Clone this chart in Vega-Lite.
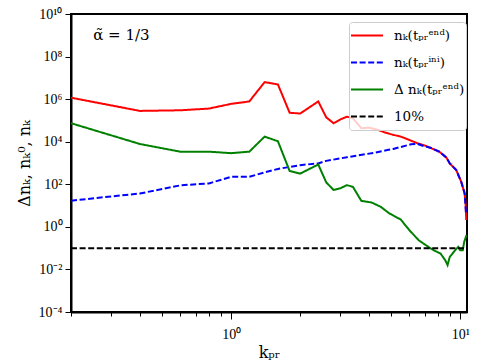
{
  "$schema": "https://vega.github.io/schema/vega-lite/v6.json",
  "width": 396,
  "height": 298,
  "autosize": "none",
  "padding": {"left": 71, "top": 14, "right": 13, "bottom": 48},
  "config": {
    "view": {"stroke": "black", "strokeWidth": 2},
    "font": "DejaVu Serif",
    "axis": {"labelColor": "black", "titleColor": "black", "titleFontWeight": "normal", "domainColor": "black", "domainWidth": 2, "tickColor": "black", "tickWidth": 1, "grid": false, "labelFont": "Liberation Serif", "titleFont": "DejaVu Serif"},
    "legend": {
      "symbolType": "stroke",
      "symbolSize": 1024,
      "symbolStrokeWidth": 2,
      "labelFontSize": 13.5,
      "labelFont": "DejaVu Serif",
      "labelColor": "black",
      "labelOffset": 10,
      "fillColor": "rgba(255,255,255,0.8)",
      "strokeColor": "#cccccc",
      "cornerRadius": 3,
      "padding": 1,
      "rowPadding": 2,
      "clipHeight": 25
    }
  },
  "layer": [
    {
      "data": {"values": [
        {"k": 0.2, "n": 1170000, "s": "nₖ(tₚᵣᵉⁿᵈ)"},
        {"k": 0.4, "n": 280000, "s": "nₖ(tₚᵣᵉⁿᵈ)"},
        {"k": 0.6, "n": 300000, "s": "nₖ(tₚᵣᵉⁿᵈ)"},
        {"k": 0.8, "n": 360000, "s": "nₖ(tₚᵣᵉⁿᵈ)"},
        {"k": 1.0, "n": 600000, "s": "nₖ(tₚᵣᵉⁿᵈ)"},
        {"k": 1.2, "n": 780000, "s": "nₖ(tₚᵣᵉⁿᵈ)"},
        {"k": 1.4, "n": 6300000, "s": "nₖ(tₚᵣᵉⁿᵈ)"},
        {"k": 1.6, "n": 4900000, "s": "nₖ(tₚᵣᵉⁿᵈ)"},
        {"k": 1.8, "n": 230000, "s": "nₖ(tₚᵣᵉⁿᵈ)"},
        {"k": 2.0, "n": 210000, "s": "nₖ(tₚᵣᵉⁿᵈ)"},
        {"k": 2.4, "n": 780000, "s": "nₖ(tₚᵣᵉⁿᵈ)"},
        {"k": 2.6, "n": 140000, "s": "nₖ(tₚᵣᵉⁿᵈ)"},
        {"k": 2.8, "n": 74000, "s": "nₖ(tₚᵣᵉⁿᵈ)"},
        {"k": 3.0, "n": 112000, "s": "nₖ(tₚᵣᵉⁿᵈ)"},
        {"k": 3.2, "n": 150000, "s": "nₖ(tₚᵣᵉⁿᵈ)"},
        {"k": 3.4, "n": 126000, "s": "nₖ(tₚᵣᵉⁿᵈ)"},
        {"k": 3.7, "n": 43000, "s": "nₖ(tₚᵣᵉⁿᵈ)"},
        {"k": 4.0, "n": 46000, "s": "nₖ(tₚᵣᵉⁿᵈ)"},
        {"k": 4.4, "n": 35000, "s": "nₖ(tₚᵣᵉⁿᵈ)"},
        {"k": 4.7, "n": 27000, "s": "nₖ(tₚᵣᵉⁿᵈ)"},
        {"k": 5.1, "n": 21000, "s": "nₖ(tₚᵣᵉⁿᵈ)"},
        {"k": 5.5, "n": 17400, "s": "nₖ(tₚᵣᵉⁿᵈ)"},
        {"k": 6.0, "n": 12000, "s": "nₖ(tₚᵣᵉⁿᵈ)"},
        {"k": 6.5, "n": 8500, "s": "nₖ(tₚᵣᵉⁿᵈ)"},
        {"k": 7.1, "n": 6300, "s": "nₖ(tₚᵣᵉⁿᵈ)"},
        {"k": 7.4, "n": 5200, "s": "nₖ(tₚᵣᵉⁿᵈ)"},
        {"k": 8.1, "n": 3400, "s": "nₖ(tₚᵣᵉⁿᵈ)"},
        {"k": 8.7, "n": 1800, "s": "nₖ(tₚᵣᵉⁿᵈ)"},
        {"k": 9.0, "n": 950, "s": "nₖ(tₚᵣᵉⁿᵈ)"},
        {"k": 9.6, "n": 470, "s": "nₖ(tₚᵣᵉⁿᵈ)"},
        {"k": 10.1, "n": 130, "s": "nₖ(tₚᵣᵉⁿᵈ)"},
        {"k": 10.45, "n": 37, "s": "nₖ(tₚᵣᵉⁿᵈ)"},
        {"k": 10.55, "n": 12.6, "s": "nₖ(tₚᵣᵉⁿᵈ)"},
        {"k": 10.62, "n": 2.1, "s": "nₖ(tₚᵣᵉⁿᵈ)"},

        {"k": 0.2, "n": 17, "s": "nₖ(tₚᵣⁱⁿⁱ)"},
        {"k": 0.4, "n": 37, "s": "nₖ(tₚᵣⁱⁿⁱ)"},
        {"k": 0.6, "n": 89, "s": "nₖ(tₚᵣⁱⁿⁱ)"},
        {"k": 0.8, "n": 110, "s": "nₖ(tₚᵣⁱⁿⁱ)"},
        {"k": 1.0, "n": 224, "s": "nₖ(tₚᵣⁱⁿⁱ)"},
        {"k": 1.2, "n": 224, "s": "nₖ(tₚᵣⁱⁿⁱ)"},
        {"k": 1.4, "n": 363, "s": "nₖ(tₚᵣⁱⁿⁱ)"},
        {"k": 1.6, "n": 525, "s": "nₖ(tₚᵣⁱⁿⁱ)"},
        {"k": 2.0, "n": 794, "s": "nₖ(tₚᵣⁱⁿⁱ)"},
        {"k": 2.4, "n": 955, "s": "nₖ(tₚᵣⁱⁿⁱ)"},
        {"k": 2.6, "n": 1260, "s": "nₖ(tₚᵣⁱⁿⁱ)"},
        {"k": 3.2, "n": 1860, "s": "nₖ(tₚᵣⁱⁿⁱ)"},
        {"k": 4.2, "n": 3020, "s": "nₖ(tₚᵣⁱⁿⁱ)"},
        {"k": 4.8, "n": 4070, "s": "nₖ(tₚᵣⁱⁿⁱ)"},
        {"k": 5.1, "n": 4570, "s": "nₖ(tₚᵣⁱⁿⁱ)"},
        {"k": 6.1, "n": 7590, "s": "nₖ(tₚᵣⁱⁿⁱ)"},
        {"k": 6.5, "n": 7940, "s": "nₖ(tₚᵣⁱⁿⁱ)"},
        {"k": 6.9, "n": 6310, "s": "nₖ(tₚᵣⁱⁿⁱ)"},
        {"k": 7.4, "n": 5250, "s": "nₖ(tₚᵣⁱⁿⁱ)"},
        {"k": 8.1, "n": 3390, "s": "nₖ(tₚᵣⁱⁿⁱ)"},
        {"k": 8.7, "n": 1800, "s": "nₖ(tₚᵣⁱⁿⁱ)"},
        {"k": 9.0, "n": 950, "s": "nₖ(tₚᵣⁱⁿⁱ)"},
        {"k": 9.6, "n": 470, "s": "nₖ(tₚᵣⁱⁿⁱ)"},
        {"k": 10.1, "n": 130, "s": "nₖ(tₚᵣⁱⁿⁱ)"},
        {"k": 10.45, "n": 37, "s": "nₖ(tₚᵣⁱⁿⁱ)"},
        {"k": 10.6, "n": 4, "s": "nₖ(tₚᵣⁱⁿⁱ)"},

        {"k": 0.2, "n": 74000, "s": "Δ nₖ(tₚᵣᵉⁿᵈ)"},
        {"k": 0.4, "n": 7800, "s": "Δ nₖ(tₚᵣᵉⁿᵈ)"},
        {"k": 0.6, "n": 3400, "s": "Δ nₖ(tₚᵣᵉⁿᵈ)"},
        {"k": 0.8, "n": 3400, "s": "Δ nₖ(tₚᵣᵉⁿᵈ)"},
        {"k": 1.0, "n": 2900, "s": "Δ nₖ(tₚᵣᵉⁿᵈ)"},
        {"k": 1.2, "n": 3400, "s": "Δ nₖ(tₚᵣᵉⁿᵈ)"},
        {"k": 1.4, "n": 17400, "s": "Δ nₖ(tₚᵣᵉⁿᵈ)"},
        {"k": 1.6, "n": 10500, "s": "Δ nₖ(tₚᵣᵉⁿᵈ)"},
        {"k": 1.8, "n": 420, "s": "Δ nₖ(tₚᵣᵉⁿᵈ)"},
        {"k": 2.0, "n": 316, "s": "Δ nₖ(tₚᵣᵉⁿᵈ)"},
        {"k": 2.4, "n": 850, "s": "Δ nₖ(tₚᵣᵉⁿᵈ)"},
        {"k": 2.6, "n": 123, "s": "Δ nₖ(tₚᵣᵉⁿᵈ)"},
        {"k": 2.8, "n": 54, "s": "Δ nₖ(tₚᵣᵉⁿᵈ)"},
        {"k": 3.0, "n": 65, "s": "Δ nₖ(tₚᵣᵉⁿᵈ)"},
        {"k": 3.2, "n": 91, "s": "Δ nₖ(tₚᵣᵉⁿᵈ)"},
        {"k": 3.4, "n": 76, "s": "Δ nₖ(tₚᵣᵉⁿᵈ)"},
        {"k": 3.7, "n": 16.6, "s": "Δ nₖ(tₚᵣᵉⁿᵈ)"},
        {"k": 4.1, "n": 14, "s": "Δ nₖ(tₚᵣᵉⁿᵈ)"},
        {"k": 4.5, "n": 8.7, "s": "Δ nₖ(tₚᵣᵉⁿᵈ)"},
        {"k": 4.9, "n": 4.3, "s": "Δ nₖ(tₚᵣᵉⁿᵈ)"},
        {"k": 5.5, "n": 2.2, "s": "Δ nₖ(tₚᵣᵉⁿᵈ)"},
        {"k": 6.0, "n": 0.69, "s": "Δ nₖ(tₚᵣᵉⁿᵈ)"},
        {"k": 6.6, "n": 0.23, "s": "Δ nₖ(tₚᵣᵉⁿᵈ)"},
        {"k": 7.4, "n": 0.1, "s": "Δ nₖ(tₚᵣᵉⁿᵈ)"},
        {"k": 7.8, "n": 0.072, "s": "Δ nₖ(tₚᵣᵉⁿᵈ)"},
        {"k": 8.2, "n": 0.056, "s": "Δ nₖ(tₚᵣᵉⁿᵈ)"},
        {"k": 8.6, "n": 0.027, "s": "Δ nₖ(tₚᵣᵉⁿᵈ)"},
        {"k": 8.8, "n": 0.016, "s": "Δ nₖ(tₚᵣᵉⁿᵈ)"},
        {"k": 9.0, "n": 0.039, "s": "Δ nₖ(tₚᵣᵉⁿᵈ)"},
        {"k": 9.5, "n": 0.079, "s": "Δ nₖ(tₚᵣᵉⁿᵈ)"},
        {"k": 9.8, "n": 0.115, "s": "Δ nₖ(tₚᵣᵉⁿᵈ)"},
        {"k": 10.0, "n": 0.079, "s": "Δ nₖ(tₚᵣᵉⁿᵈ)"},
        {"k": 10.25, "n": 0.079, "s": "Δ nₖ(tₚᵣᵉⁿᵈ)"},
        {"k": 10.4, "n": 0.195, "s": "Δ nₖ(tₚᵣᵉⁿᵈ)"},
        {"k": 10.65, "n": 0.41, "s": "Δ nₖ(tₚᵣᵉⁿᵈ)"},

        {"k": 0.2, "n": 0.1, "s": "10%"},
        {"k": 10.7, "n": 0.1, "s": "10%"}
      ]},
      "mark": {"type": "line", "strokeWidth": 2, "clip": true},
      "encoding": {
        "x": {
          "field": "k", "type": "quantitative",
          "scale": {"type": "log", "domain": [0.2, 10.7], "nice": false},
          "axis": {
            "values": [0.2, 0.3, 0.4, 0.5, 0.6, 0.7, 0.8, 0.9, 1, 2, 3, 4, 5, 6, 7, 8, 9, 10],
            "labelExpr": "datum.value == 1 ? '10⁰' : (datum.value == 10 ? '10¹' : '')",
            "tickSize": {"condition": {"test": "datum.value == 1 || datum.value == 10", "value": 7}, "value": 4},
            "labelOverlap": false,
            "labelFlush": false,
            "labelFontSize": 14,
            "labelPadding": 8,
            "title": "kₚᵣ",
            "titleFontSize": 16,
            "titleY": 32,
            "titleBaseline": "top"
          }
        },
        "y": {
          "field": "n", "type": "quantitative",
          "scale": {"type": "log", "domain": [0.0001, 10000000000], "nice": false},
          "axis": {
            "values": [0.0001, 0.01, 1, 100, 10000, 1000000, 100000000, 10000000000],
            "labelExpr": "'10' + replace(replace(replace(replace(replace(replace(replace('' + round(log(datum.value)/LN10), '-', '⁻'), '0', '⁰'), '1', '¹'), '2', '²'), '4', '⁴'), '6', '⁶'), '8', '⁸')",
            "tickSize": 6,
            "labelFontSize": 14,
            "labelPadding": 3,
            "labelOverlap": false,
            "labelFlush": false,
            "title": "Δnₖ, nₖ⁰, nₖ",
            "titleFontSize": 16,
            "titlePadding": 6
          }
        },
        "color": {
          "field": "s", "type": "nominal",
          "scale": {"domain": ["nₖ(tₚᵣᵉⁿᵈ)", "nₖ(tₚᵣⁱⁿⁱ)", "Δ nₖ(tₚᵣᵉⁿᵈ)", "10%"], "range": ["#ff0000", "#0000ff", "#008000", "#000000"]},
          "legend": {"title": null, "orient": "none", "legendX": 278, "legendY": 8}
        },
        "strokeDash": {
          "field": "s", "type": "nominal",
          "scale": {"domain": ["nₖ(tₚᵣᵉⁿᵈ)", "nₖ(tₚᵣⁱⁿⁱ)", "Δ nₖ(tₚᵣᵉⁿᵈ)", "10%"], "range": [[1, 0], [6, 2.6], [1, 0], [6, 2.6]]},
          "legend": {"title": null, "orient": "none", "legendX": 278, "legendY": 8}
        }
      }
    },
    {
      "data": {"values": [{"k": 0.25, "n": 1000000000, "t": "α̃ = 1/3"}]},
      "mark": {"type": "text", "align": "left", "baseline": "middle", "fontSize": 15, "font": "DejaVu Serif", "color": "black"},
      "encoding": {
        "x": {"field": "k", "type": "quantitative"},
        "y": {"field": "n", "type": "quantitative"},
        "text": {"field": "t"}
      }
    }
  ]
}
